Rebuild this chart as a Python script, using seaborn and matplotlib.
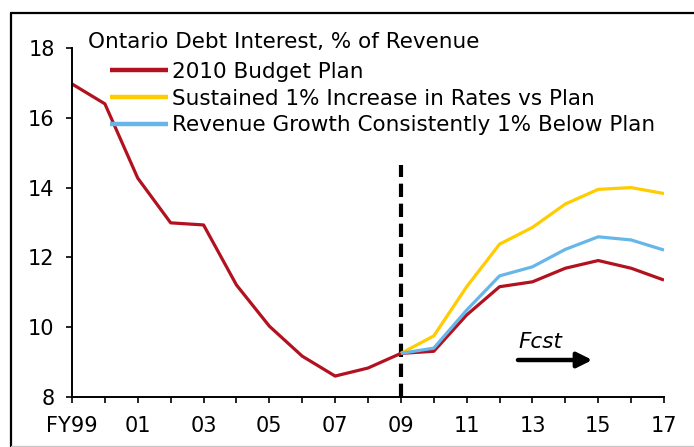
import numpy as np
import pandas as pd
import matplotlib
matplotlib.use("Agg")
import matplotlib.pyplot as plt
from matplotlib.lines import Line2D
import seaborn as sns

years_hist = [1999, 2000, 2001, 2002, 2003, 2004, 2005, 2006, 2007, 2008, 2009,
              2010, 2011, 2012, 2013, 2014, 2015, 2016, 2017]
budget_plan = [16.97, 16.40, 14.27, 12.99, 12.93, 11.21, 10.03, 9.17, 8.60, 8.83, 9.25,
               9.31, 10.35, 11.16, 11.30, 11.69, 11.91, 11.69, 11.35]
years_fcst = [2009, 2010, 2011, 2012, 2013, 2014, 2015, 2016, 2017]
rates_up = [9.25, 9.75, 11.16, 12.38, 12.86, 13.53, 13.95, 14.00, 13.83]
revenue_low = [9.25, 9.40, 10.49, 11.47, 11.73, 12.23, 12.59, 12.50, 12.21]

series_names = ["2010 Budget Plan",
                "Sustained 1% Increase in Rates vs Plan",
                "Revenue Growth Consistently 1% Below Plan"]
colors = ["#B2121F", "#FFCC00", "#66B6EA"]
title = "Ontario Debt Interest, % of Revenue"
xtick_years = [1999, 2001, 2003, 2005, 2007, 2009, 2011, 2013, 2015, 2017]
xtick_labels = ["FY99", "01", "03", "05", "07", "09", "11", "13", "15", "17"]
yticks = [8, 10, 12, 14, 16, 18]

df = pd.concat([
    pd.DataFrame({"year": years_hist, "value": budget_plan, "series": series_names[0]}),
    pd.DataFrame({"year": years_fcst, "value": rates_up, "series": series_names[1]}),
    pd.DataFrame({"year": years_fcst, "value": revenue_low, "series": series_names[2]}),
])

sns.set_style("white")
plt.rcParams["font.family"] = ["DejaVu Sans"]
plt.rcParams["text.color"] = "black"
plt.rcParams["xtick.color"] = "black"
plt.rcParams["ytick.color"] = "black"
plt.rcParams["axes.labelcolor"] = "black"
FS = 15.5
TFS = 15

fig = plt.figure(figsize=(6.94, 4.47), dpi=100)
ax = fig.add_axes([72/694, 1-397/447, (664-72)/694, (397-48)/447])

handles = []
for name, col in zip(series_names, colors):
    sub = df[df["series"] == name]
    sns.lineplot(data=sub, x="year", y="value", color=col, lw=2.3, ax=ax,
                 legend=False, solid_capstyle="butt")
    handles.append(Line2D([0], [0], color=col, lw=3.2, solid_capstyle="butt"))

ax.set_xlim(1999, 2017)
ax.set_ylim(8, 18)
ax.set_xlabel("")
ax.set_ylabel("")

# dashed forecast divider
ax.plot([2009, 2009], [8, 14.65], color="black", lw=3.0,
        linestyle=(0, (3.2, 1.6)), zorder=1)

# forecast arrow
ax.annotate("", xy=(2014.82, 9.06), xytext=(2012.56, 9.06),
            arrowprops=dict(arrowstyle="-|>,head_length=0.9,head_width=0.45",
                            color="black", lw=3.2, shrinkA=0, shrinkB=0))
ax.text(2012.56, 9.30, "Fcst", fontsize=FS, style="italic", ha="left", va="bottom")

ax.set_xticks(xtick_years)
ax.set_xticklabels(xtick_labels)
ax.set_xticks(list(range(1999, 2018)), minor=True)
ax.set_yticks(yticks)
ax.tick_params(axis="both", which="both", direction="out", color="black",
               length=4.5, width=1.2, labelsize=TFS, labelcolor="black")
ax.tick_params(axis="x", which="both", bottom=True, pad=9)
ax.tick_params(axis="y", which="both", left=True, pad=8)

for s in ["top", "right"]:
    ax.spines[s].set_visible(False)
for s in ["left", "bottom"]:
    ax.spines[s].set_color("black")
    ax.spines[s].set_linewidth(1.4)

fig.text(88/694, 1-42/447, title, fontsize=FS, ha="left", va="center")
leg = ax.legend(handles, series_names, loc="upper left",
                bbox_to_anchor=(110/694, 1-62/447), bbox_transform=fig.transFigure,
                frameon=False, fontsize=FS, handlelength=2.7, handletextpad=0.2,
                labelspacing=0.31, borderaxespad=0, borderpad=0)

# outer frame
fig.add_artist(Line2D([11/694, 11/694], [0, 1-13/447], color="black", lw=1.6,
                      transform=fig.transFigure))
fig.add_artist(Line2D([11/694, 1], [1-13/447, 1-13/447], color="black", lw=1.6,
                      transform=fig.transFigure))
fig.add_artist(Line2D([11/694, 1], [1/447, 1/447], color="#C8C8C8", lw=1.0,
                      transform=fig.transFigure))

fig.savefig("out.png", dpi=100)
